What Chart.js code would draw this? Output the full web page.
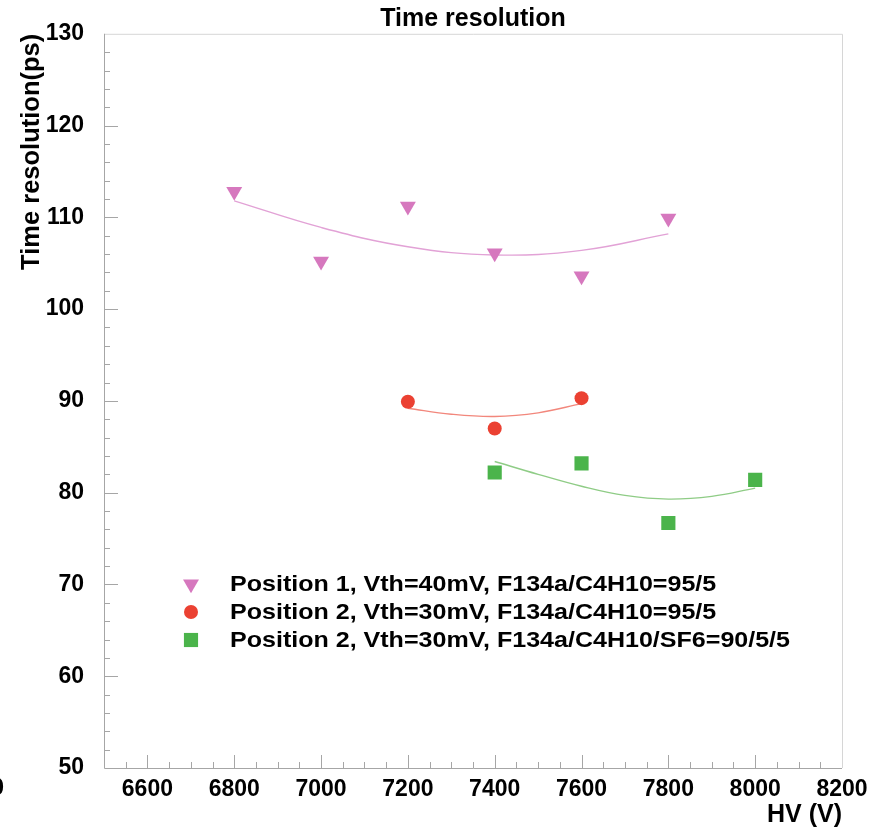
<!DOCTYPE html>
<html>
<head>
<meta charset="utf-8">
<title>Time resolution</title>
<script src="https://cdn.jsdelivr.net/npm/chart.js@4.4.1/dist/chart.umd.min.js"></script>
<style>
  html, body { margin: 0; padding: 0; background: #fff; }
  #wrap { width: 885px; height: 830px; }
</style>
</head>
<body>
<div id="wrap"><canvas id="chart" width="885" height="830"></canvas></div>
<script>
// measured points: HV (V) vs time resolution (ps)
const hv1 = [6800, 7000, 7200, 7400, 7600, 7800];
const res1 = [112.8, 105.2, 111.2, 106.1, 103.6, 109.9];
const hv2 = [7200, 7400, 7600];
const res2 = [89.9, 87.0, 90.3];
const hv3 = [7400, 7600, 7800, 8000];
const res3 = [82.2, 83.2, 76.7, 81.4];

// fit curves
const fitHv1 = [6800, 7000, 7200, 7400, 7600, 7800];
const fitRes1 = [111.8, 108.9, 106.8, 105.9, 106.4, 108.2];
const fitHv2 = [7200, 7300, 7400, 7500, 7600];
const fitRes2 = [89.2, 88.55, 88.3, 88.7, 89.7];
const fitHv3 = [7400, 7500, 7600, 7700, 7800, 7900, 8000];
const fitRes3 = [83.4, 82.0, 80.7, 79.7, 79.3, 79.6, 80.5];

const seriesNames = [
  'Position 1, Vth=40mV, F134a/C4H10=95/5',
  'Position 2, Vth=30mV, F134a/C4H10=95/5',
  'Position 2, Vth=30mV, F134a/C4H10/SF6=90/5/5'
];

const xTickValues = [6600, 6800, 7000, 7200, 7400, 7600, 7800, 8000, 8200];
const yTickValues = [50, 60, 70, 80, 90, 100, 110, 120, 130];

const FONT = "'Liberation Sans', Arial, Helvetica, sans-serif";
const pink = '#d678be', red = '#eb4132', green = '#4bb44b';

const pts = (xs, ys) => xs.map((x, i) => ({ x, y: ys[i] }));

function markerSet(label, xs, ys, color, style, radius, rotation){
  return {
    label, data: pts(xs, ys), showLine: false,
    pointStyle: style, pointRadius: radius, pointHoverRadius: radius,
    pointRotation: rotation || 0, backgroundColor: color, borderColor: color, borderWidth: 0,
    order: 1
  };
}
function fitSet(xs, ys, color){
  return {
    label: '', data: pts(xs, ys), showLine: true, pointRadius: 0,
    borderColor: color, borderWidth: 1.4, tension: 0.4, fill: false, order: 2
  };
}

const frame = {
  id: 'frame',
  beforeDatasetsDraw(chart){
    const { ctx, chartArea: a, scales: { x, y } } = chart;
    ctx.save();
    ctx.lineWidth = 1;
    ctx.strokeStyle = '#d6d6d6';
    ctx.beginPath();
    ctx.moveTo(a.left, a.top + 0.5);
    ctx.lineTo(a.right + 0.5, a.top + 0.5);
    ctx.lineTo(a.right + 0.5, a.bottom);
    ctx.stroke();

    ctx.strokeStyle = '#a6a6a6';
    ctx.beginPath();
    ctx.moveTo(a.left + 0.5, a.top);
    ctx.lineTo(a.left + 0.5, a.bottom + 0.5);
    ctx.lineTo(a.right, a.bottom + 0.5);
    for (let v = x.min + 50; v < x.max; v += 50){
      const px = Math.round(x.getPixelForValue(v)) + 0.5;
      const len = v % 200 === 0 ? 13 : 6;
      ctx.moveTo(px, a.bottom); ctx.lineTo(px, a.bottom - len);
    }
    for (let v = y.min + 2; v < y.max; v += 2){
      const py = Math.round(y.getPixelForValue(v)) + 0.5;
      const len = v % 10 === 0 ? 14 : 6;
      ctx.moveTo(a.left, py); ctx.lineTo(a.left + len, py);
    }
    ctx.stroke();
    ctx.restore();
  }
};

const legendBox = {
  id: 'legendBox',
  afterDraw(chart){
    const ctx = chart.ctx;
    const rows = [584, 612, 640];
    ctx.save();
    ctx.font = 'bold 22px ' + FONT;
    const sx = 560 / ctx.measureText(seriesNames[2]).width;
    for (let i = 0; i < 3; i++){
      const ds = chart.data.datasets[i];
      ctx.fillStyle = ds.backgroundColor;
      Chart.helpers.drawPoint(ctx, {
        pointStyle: ds.pointStyle, radius: ds.pointRadius,
        rotation: ds.pointRotation, borderWidth: 0
      }, 191, rows[i]);
      ctx.save();
      ctx.translate(230, rows[i] + 1);
      ctx.scale(sx, 1);
      ctx.fillStyle = '#000';
      ctx.textBaseline = 'middle';
      ctx.textAlign = 'left';
      ctx.fillText(ds.label, 0, 0);
      ctx.restore();
    }
    // clipped label fragment at the left edge of the figure
    ctx.fillStyle = '#000';
    ctx.font = 'bold 23px ' + FONT;
    ctx.textAlign = 'right';
    ctx.textBaseline = 'middle';
    ctx.fillText('0', 4, 789);
    ctx.restore();
  }
};

new Chart(document.getElementById('chart'), {
  type: 'scatter',
  data: {
    datasets: [
      markerSet(seriesNames[0], hv1, res1, pink, 'triangle', 9.2, 180),
      markerSet(seriesNames[1], hv2, res2, red, 'circle', 7),
      markerSet(seriesNames[2], hv3, res3, green, 'rect', 10),
      fitSet(fitHv1, fitRes1, '#e2a2d6'),
      fitSet(fitHv2, fitRes2, '#f2877c'),
      fitSet(fitHv3, fitRes3, '#8fcc86')
    ]
  },
  options: {
    responsive: false,
    devicePixelRatio: 1,
    animation: false,
    layout: { padding: { left: 0, right: 43, top: 0, bottom: 0 } },
    plugins: {
      legend: { display: false },
      tooltip: { enabled: false },
      title: {
        display: true, text: 'Time resolution', fullSize: false, color: '#000',
        font: { family: FONT, size: 25, weight: 'bold', lineHeight: 1.15 },
        padding: { top: 1, bottom: 0 }
      }
    },
    scales: {
      x: {
        type: 'linear', min: 6500, max: 8200,
        grid: { display: false, drawTicks: false },
        border: { display: false },
        afterBuildTicks: s => { s.ticks = xTickValues.map(v => ({ value: v })); },
        afterFit: s => { s.height = 62; },
        ticks: {
          color: '#000', padding: 8, maxRotation: 0, autoSkip: false,
          font: { family: FONT, size: 23, weight: 'bold' },
          callback: v => String(v)
        },
        title: {
          display: true, text: 'HV (V)', align: 'end', color: '#000',
          font: { family: FONT, size: 25, weight: 'bold' },
          padding: { top: 0, bottom: 0 }
        }
      },
      y: {
        type: 'linear', min: 50, max: 130,
        grid: { display: false, drawTicks: false },
        border: { display: false },
        afterBuildTicks: s => { s.ticks = yTickValues.map(v => ({ value: v })); },
        afterFit: s => { s.width = 104; },
        ticks: {
          color: '#000', padding: 20, autoSkip: false,
          font: { family: FONT, size: 23, weight: 'bold' },
          callback: v => String(v)
        },
        title: {
          display: true, text: 'Time resolution(ps)', align: 'end', color: '#000',
          font: { family: FONT, size: 25.5, weight: 'bold' },
          padding: { top: 17, bottom: 0 }
        }
      }
    }
  },
  plugins: [frame, legendBox]
});
</script>
</body>
</html>
